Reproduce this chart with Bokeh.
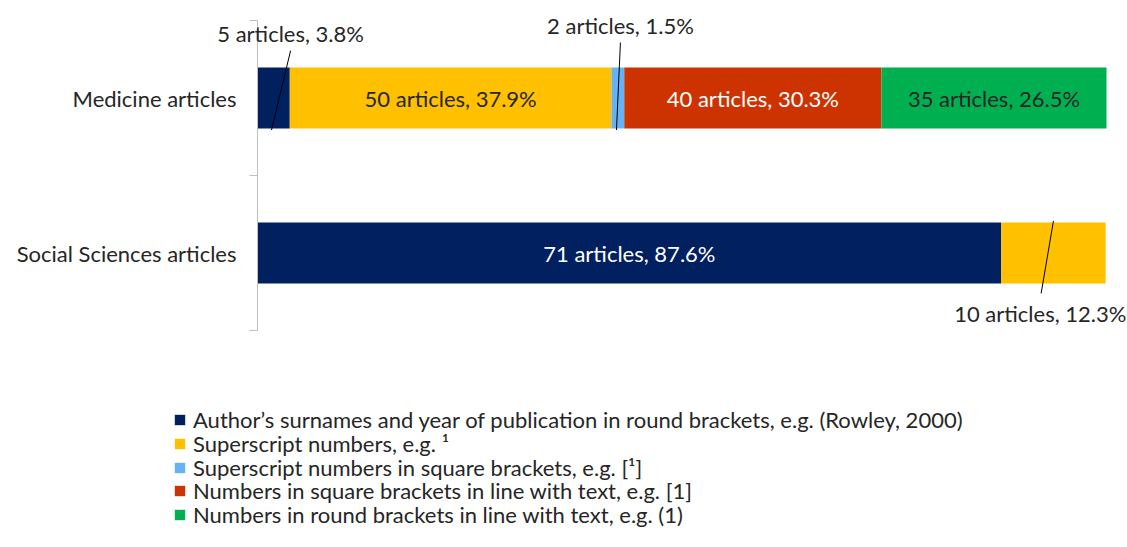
from bokeh.plotting import figure
from bokeh.models import ColumnDataSource, Range1d, Legend, LegendItem
from bokeh.core.properties import value
from bokeh.embed import file_html
from bokeh.resources import INLINE

categories = ["Social Sciences articles", "Medicine articles"]
series = [
    "Author\u2019s surnames and year of publication in round brackets, e.g. (Rowley, 2000)",
    "Superscript numbers, e.g. \u00b9",
    "Superscript numbers in square brackets, e.g. [\u00b9]",
    "Numbers in square brackets in line with text, e.g. [1]",
    "Numbers in round brackets in line with text, e.g. (1)",
]
colors = ["#002060", "#FFC000", "#66B2F5", "#CC3300", "#00B050"]
medicine_counts = [5, 50, 2, 40, 35]
medicine_pct = [3.8, 37.9, 1.5, 30.3, 26.5]
social_counts = [71, 10, 0, 0, 0]
social_pct = [87.6, 12.3, 0, 0, 0]

FONT = "Lato"
FS = "22px"
TXT = "#262626"

# layout (pixels)
W, H = 1127, 531
PX_L, PX_R = 257, 1106     # plot area left/right
PX_T, PX_B = 20, 330       # plot area top/bottom
sx = (PX_R - PX_L) / 100.0  # px per percent
sy = (PX_B - PX_T) / 2.0    # px per category

p = figure(width=W, height=H,
           x_range=Range1d(-PX_L / sx, (W - PX_L) / sx),
           y_range=Range1d(-(H - PX_B) / sy, 2 + PX_T / sy),
           x_axis_type=None, y_axis_type=None,
           output_backend="svg", toolbar_location=None, min_border=0)
p.xgrid.visible = False
p.ygrid.visible = False
p.outline_line_color = None

ypos = [0.5, 1.5]
keys = ["s%d" % i for i in range(5)]
data = {"y": ypos}
for i, k in enumerate(keys):
    data[k] = [social_pct[i], medicine_pct[i]]
src = ColumnDataSource(data)
BH = 61 / sy
rends = p.hbar_stack(keys, y="y", height=BH, color=colors, line_color=None, source=src)

# category axis
AX = "#BFBFBF"
p.segment(x0=[0], y0=[0], x1=[0], y1=[len(categories)], line_color=AX, line_width=1)
bounds = list(range(len(categories) + 1))
p.segment(x0=[0] * len(bounds), y0=bounds, x1=[-8 / sx] * len(bounds), y1=bounds,
          line_color=AX, line_width=1)
p.text(x=[0, 0], y=ypos, text=categories, x_offset=-21, text_align="right",
       text_baseline="middle", text_color=TXT, text_font=value(FONT), text_font_size=FS)

def label(c, pc):
    return "%d articles, %.1f%%" % (c, pc)

in_x, in_y, in_t, in_c = [], [], [], []
out_x, out_y, out_t = [], [], []
lx0, ly0, lx1, ly1 = [], [], [], []
white = {0, 3}
# callout offsets (percent units / category units) for small segments
callout = {
    (1.5, 0): dict(lb=-0.25, lt=2.0, yt=1.806, tx=2.0, ty=1.916),
    (1.5, 2): dict(lb=-0.17, lt=0.3, yt=1.858, tx=0.3, ty=1.968),
    (0.5, 1): dict(lb=-1.45, lt=0.0, yt=0.239, tx=-1.55, ty=0.11),
}
for yc, counts, pcts in [(1.5, medicine_counts, medicine_pct), (0.5, social_counts, social_pct)]:
    cum = 0
    for i in range(5):
        c, pc = counts[i], pcts[i]
        mid = cum + pc / 2
        if c >= 20:
            in_x.append(mid); in_y.append(yc); in_t.append(label(c, pc))
            in_c.append("white" if i in white else TXT)
        elif c > 0:
            o = callout[(yc, i)]
            out_x.append(mid + o["tx"]); out_y.append(o["ty"]); out_t.append(label(c, pc))
            if yc > 1:
                lx0.append(mid + o["lb"]); ly0.append(yc - BH / 2 - 0.01)
                lx1.append(mid + o["lt"]); ly1.append(o["yt"])
            else:
                lx0.append(mid + o["lt"]); ly0.append(yc + BH / 2 + 0.01)
                lx1.append(mid + o["lb"]); ly1.append(o["yt"])
        cum += pc

p.text(x=in_x, y=in_y, text=in_t, text_color=in_c, text_align="center", text_baseline="middle",
       text_font=value(FONT), text_font_size=FS)
p.text(x=out_x, y=out_y, text=out_t, text_color=TXT, text_align="center", text_baseline="middle",
       text_font=value(FONT), text_font_size=FS)
p.segment(x0=lx0, y0=ly0, x1=lx1, y1=ly1, line_color="black", line_width=1)

# legend: one row per series, rows 23.75 px apart
ROW = 23.75
n = len(series)
for i in range(n):
    lg = Legend(items=[LegendItem(label=series[i], renderers=[rends[i]])],
                location=(173, 3 + ROW * (n - 1 - i)))
    lg.label_text_font = FONT
    lg.label_text_font_size = FS
    lg.label_text_color = TXT
    lg.glyph_width = 13
    lg.glyph_height = 13
    lg.label_height = 20
    lg.spacing = 0
    lg.padding = 0
    lg.margin = 0
    lg.label_standoff = 7
    lg.border_line_color = None
    lg.background_fill_alpha = 0
    p.add_layout(lg, "center")

open("out.html", "w").write(file_html(p, INLINE))
